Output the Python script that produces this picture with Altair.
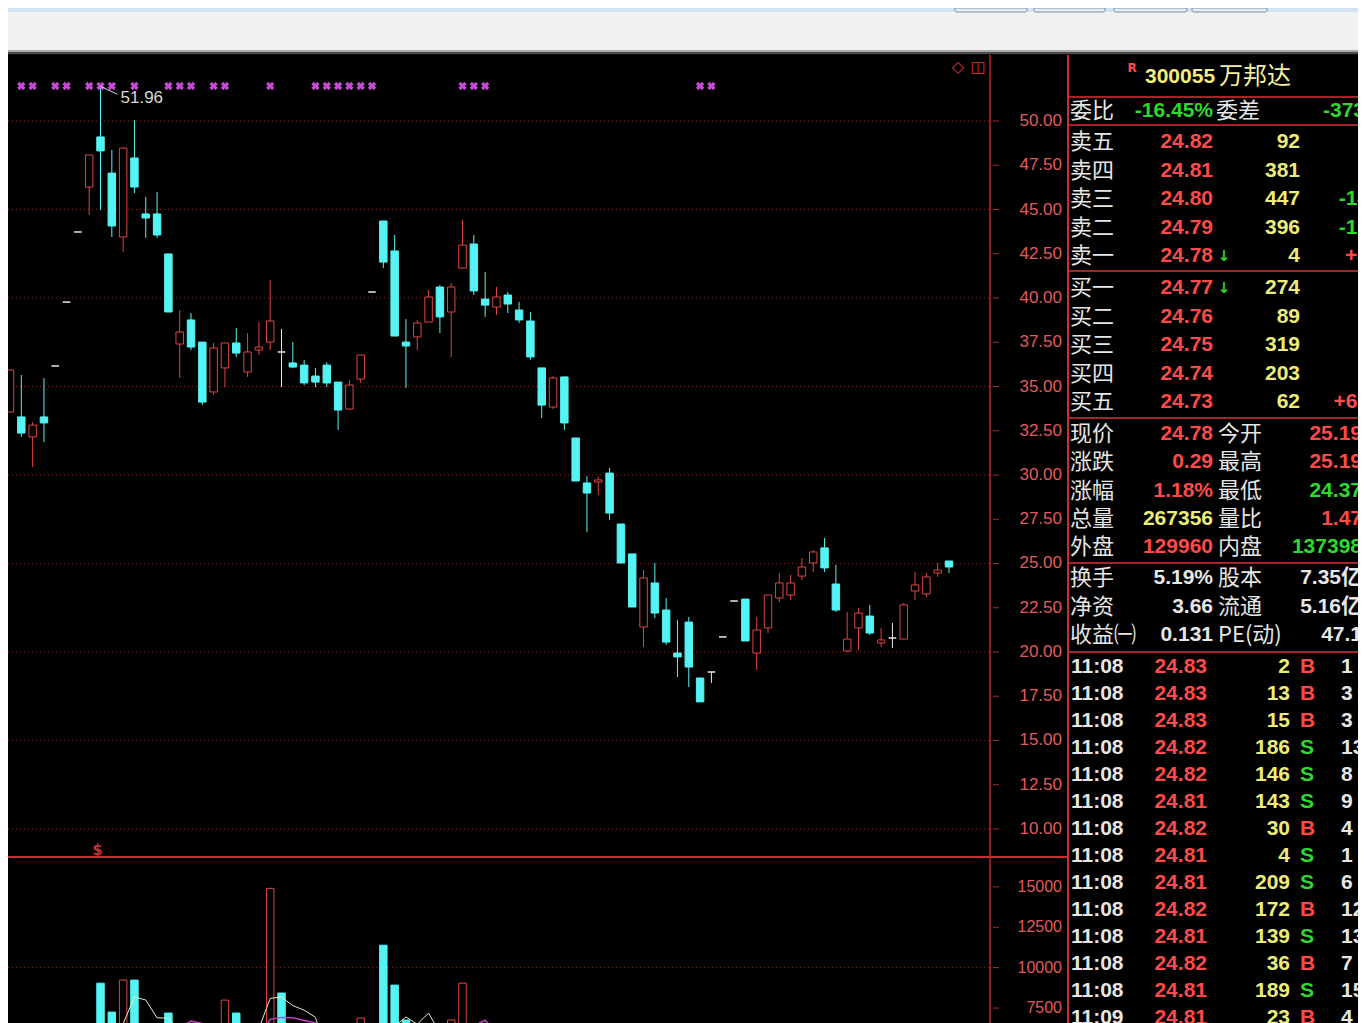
import altair as alt
import pandas as pd

# ---------------- candle data (left to right) ----------------
opens = [33.56, 33.28, 32.15, 33.28, 36.16, 39.77, 43.73, 46.27, 49.10, 47.06,
         43.45, 47.91, 44.75, 44.75, 42.49, 37.40, 38.76, 37.51, 34.69, 36.05,
         37.46, 35.82, 37.06, 37.51, 36.95, 36.33, 36.21, 35.59, 36.21, 35.25,
         33.73, 35.42, 40.34, 44.35, 42.66, 37.51, 37.80, 38.64, 40.62, 39.21,
         41.69, 43.05, 39.94, 39.49, 40.17, 39.32, 38.70, 36.05, 33.84, 35.54,
         32.09, 29.55, 29.60, 30.11, 27.23, 25.54, 21.41, 23.90, 22.37, 19.94,
         21.69, 18.53, 18.87, 20.85, 22.88, 22.99, 19.94, 21.36, 23.05, 23.22,
         24.29, 25.03, 25.88, 23.84, 20.06, 21.36, 22.03, 20.51, 20.79, 20.73,
         23.45, 23.28, 24.46, 25.14]
closes = [35.93, 32.37, 32.82, 32.94, 36.16, 39.77, 43.73, 48.08, 48.31, 44.07,
          48.47, 46.27, 44.52, 43.56, 39.21, 38.08, 37.23, 34.12, 37.18, 37.46,
          36.89, 36.95, 37.23, 38.70, 36.95, 36.10, 35.20, 35.25, 35.20, 33.67,
          35.08, 36.78, 40.34, 42.03, 37.85, 37.29, 38.59, 40.06, 38.93, 40.62,
          42.99, 40.40, 39.60, 40.06, 39.66, 38.76, 36.67, 33.95, 35.48, 32.94,
          29.66, 28.98, 29.72, 27.85, 25.03, 22.54, 24.18, 22.20, 20.56, 19.72,
          19.15, 17.18, 18.87, 20.85, 22.88, 20.62, 21.24, 23.22, 23.90, 23.90,
          24.80, 25.65, 24.75, 22.37, 20.73, 22.20, 21.07, 20.68, 20.79, 22.66,
          23.79, 24.24, 24.63, 24.80]
highs = [35.93, 35.65, 32.99, 35.48, 36.16, 39.77, 43.73, 48.08, 51.96, 48.36,
         48.47, 50.06, 45.71, 45.99, 42.49, 39.32, 39.15, 37.51, 37.46, 37.46,
         38.31, 38.02, 38.64, 41.02, 38.25, 37.51, 36.50, 36.05, 36.38, 35.25,
         35.37, 36.78, 40.34, 44.35, 43.56, 38.81, 38.76, 40.45, 40.73, 40.85,
         44.41, 43.56, 41.47, 40.62, 40.34, 39.77, 39.21, 36.05, 35.59, 35.54,
         32.09, 29.94, 29.89, 30.40, 27.23, 25.54, 24.63, 25.03, 23.05, 21.81,
         21.98, 18.53, 18.87, 20.85, 22.88, 22.99, 21.98, 23.22, 24.46, 24.35,
         25.31, 25.76, 26.44, 24.92, 22.26, 22.49, 22.66, 21.36, 21.64, 22.77,
         24.52, 24.46, 25.03, 25.14]
lows = [33.56, 32.15, 30.45, 31.86, 36.16, 39.77, 43.73, 44.69, 44.97, 43.45,
        42.60, 45.93, 43.39, 43.39, 39.21, 35.48, 37.06, 33.95, 34.52, 34.97,
        36.67, 35.54, 36.78, 37.06, 34.97, 36.05, 35.08, 34.97, 34.97, 32.54,
        33.67, 35.20, 40.34, 41.69, 37.85, 34.92, 37.06, 38.64, 38.02, 36.67,
        41.69, 40.17, 38.93, 39.04, 39.15, 38.59, 36.50, 33.22, 33.73, 32.54,
        29.66, 26.78, 28.87, 27.46, 25.03, 22.54, 20.28, 21.92, 20.40, 18.59,
        18.02, 17.18, 18.25, 20.85, 22.88, 20.62, 18.98, 21.07, 22.82, 22.94,
        24.07, 24.52, 24.52, 22.26, 20.00, 20.11, 20.96, 20.28, 20.23, 20.73,
        22.94, 23.11, 24.24, 24.46]
volumes = [4200, 5800, 4600, 5200, 600, 700, 900, 6200, 9040, 7250,
           9230, 9230, 5250, 3500, 7190, 4800, 5200, 4700, 5600, 7990,
           7190, 5000, 5400, 14910, 8430, 4500, 3600, 3200, 2900, 4100,
           3800, 6880, 800, 11390, 8920, 6760, 4600, 4300, 5200, 6760,
           9040, 6300, 4200, 3300, 2800, 3100, 4400, 5100, 3900, 4700,
           5300, 4100, 2600, 4900, 5000, 5600, 6300, 5200, 4300, 3900,
           5800, 6100, 2200, 700, 900, 6400, 5800, 5500, 4900, 3800,
           4200, 5100, 5700, 4600, 3900, 3700, 3300, 2900, 2600, 4400,
           3800, 3500, 3100, 2700]
signal_days = [1, 2, 4, 5, 7, 8, 9, 11, 14, 15, 16, 18, 19, 23, 27, 28, 29, 30,
               31, 32, 40, 41, 42, 61, 62]
peak_day = 8
peak_label = "51.96"

price_ticks = [10.0 + 2.5 * k for k in range(17)]
price_grid = [10, 15, 20, 25, 30, 35, 40, 45, 50]
vol_ticks = [7500, 10000, 12500, 15000]
vol_grid = [10000]

# ---------------- quote panel content ----------------
stock_code = "300055"
stock_name = "万邦达"
wb = ["委比", "-16.45%", "委差", "-373"]
ask_labels = ["卖五", "卖四", "卖三", "卖二", "卖一"]
ask_prices = ["24.82", "24.81", "24.80", "24.79", "24.78"]
ask_vols = ["92", "381", "447", "396", "4"]
ask_chg = ["", "", "-14", "-10", "+4"]
bid_labels = ["买一", "买二", "买三", "买四", "买五"]
bid_prices = ["24.77", "24.76", "24.75", "24.74", "24.73"]
bid_vols = ["274", "89", "319", "203", "62"]
bid_chg = ["", "", "", "", "+62"]
quote_l1 = ["现价", "涨跌", "涨幅", "总量", "外盘"]
quote_v1 = ["24.78", "0.29", "1.18%", "267356", "129960"]
quote_l2 = ["今开", "最高", "最低", "量比", "内盘"]
quote_v2 = ["25.19", "25.19", "24.37", "1.47", "137398"]
info_l1 = ["换手", "净资", "收益㈠"]
info_v1 = ["5.19%", "3.66", "0.131"]
info_l2 = ["股本", "流通", "PE(动)"]
info_v2 = ["7.35亿", "5.16亿", "47.1"]
tick_times = ["11:08"] * 13 + ["11:09"]
tick_prices = ["24.83", "24.83", "24.83", "24.82", "24.82", "24.81", "24.82",
               "24.81", "24.81", "24.82", "24.81", "24.82", "24.81", "24.81"]
tick_vols = ["2", "13", "15", "186", "146", "143", "30", "4", "209", "172",
             "139", "36", "189", "23"]
tick_sides = ["B", "B", "B", "S", "S", "S", "B", "S", "S", "B", "S", "B", "S", "B"]
tick_more = ["1", "3", "3", "13", "8", "9", "4", "1", "6", "12", "13", "7", "15", "4"]

# ---------------- styles / layout ----------------
UP = "#e04444"
DOWN = "#54f4f4"
FLAT = "#e8e8e8"
AX_RED = "#b82828"
SEP_RED = "#c83030"
GRID = "#8c2424"
LBL_RED = "#e45a5a"
WHITE = "#e6e6e6"
PRED = "#ff4a4a"
YEL = "#ecec7a"
GRN = "#2ed82e"
NUMFONT = "Liberation Sans, DejaVu Sans, Noto Sans CJK SC"
CJKFONT = "Noto Sans CJK SC"

PW, PH = 1059, 803        # price panel (incl. in-plot axis strip)
AXX = 982                 # x of the price axis line inside the panel
VH = 165                  # volume panel height (runs to the window's bottom edge)
QW, QH = 291, PH + VH     # quote panel
CW, CH = PW + QW, 47      # window chrome strip

step = 939 / 83.0
x0 = -2 / step
xs = alt.Scale(domain=[x0, x0 + PW / step], nice=False, zero=False)
ys = alt.Scale(domain=[8.36, 53.73], nice=False, zero=False)
vbottom = 7500 + (1008 - (858 + VH)) / 40.5 * 2500
vs = alt.Scale(domain=[vbottom, 16790], nice=False, zero=False)
kdom = ["up", "down", "flat"]
stroke_sc = alt.Scale(domain=kdom, range=[UP, DOWN, FLAT])
fill_sc = alt.Scale(domain=kdom, range=["#000000", DOWN, FLAT])

idx = list(range(len(opens)))
kind = ["up" if c > o else ("down" if c < o else "flat") for o, c in zip(opens, closes)]
cdf = pd.DataFrame(dict(idx=idx, open=opens, close=closes, high=highs, low=lows, kind=kind))
cdf["x0"] = cdf["idx"] - 0.33
cdf["x1"] = cdf["idx"] + 0.33


def value_axis(ticks, scale, fmt, height, fsize):
    tdf_ = pd.DataFrame({"v": ticks, "lab": [fmt(t) for t in ticks]})
    line = alt.Chart(pd.DataFrame({"k": [0]})).mark_rule(
        color=AX_RED, strokeWidth=1.5, clip=True).encode(
        x=alt.value(AXX), y=alt.value(0), y2=alt.value(height))
    tks = alt.Chart(tdf_).mark_rule(color=AX_RED, strokeWidth=1, clip=True).encode(
        x=alt.value(AXX + 3), x2=alt.value(AXX + 9),
        y=alt.Y("v:Q", scale=scale, axis=None))
    labs = alt.Chart(tdf_).mark_text(align="right", baseline="middle", color=LBL_RED,
                                     font="Liberation Sans", fontSize=fsize, clip=True).encode(
        x=alt.value(PW - 5), y=alt.Y("v:Q", scale=scale, axis=None), text="lab:N")
    return [line, tks, labs]


# ---------------- price panel ----------------
grid_layer = alt.Chart(pd.DataFrame({"lvl": price_grid})).mark_rule(
    color=GRID, strokeDash=[1, 3], strokeWidth=1, clip=True).encode(
    y=alt.Y("lvl:Q", scale=ys, axis=None),
    x=alt.value(0), x2=alt.value(AXX))

sep_line = alt.Chart(pd.DataFrame({"k": [0]})).mark_rule(
    color=SEP_RED, strokeWidth=2, clip=True).encode(
    x=alt.value(0), x2=alt.value(PW), y=alt.value(PH - 1))

wicks = alt.Chart(cdf).mark_rule(strokeWidth=1, clip=True).encode(
    x=alt.X("idx:Q", scale=xs, axis=None),
    y=alt.Y("low:Q", scale=ys, axis=None),
    y2="high:Q",
    color=alt.Color("kind:N", scale=stroke_sc, legend=None))

bodies = alt.Chart(cdf).mark_rect(strokeWidth=1, clip=True).encode(
    x=alt.X("x0:Q", scale=xs, axis=None), x2="x1:Q",
    y=alt.Y("open:Q", scale=ys, axis=None), y2="close:Q",
    fill=alt.Fill("kind:N", scale=fill_sc, legend=None),
    stroke=alt.Stroke("kind:N", scale=stroke_sc, legend=None))

signals = alt.Chart(pd.DataFrame({"idx": signal_days})).mark_point(
    shape="cross", angle=45, filled=True, size=70, color="#d24ee0", opacity=0.95,
    clip=True).encode(
    x=alt.X("idx:Q", scale=xs, axis=None), y=alt.value(31))

peak = pd.DataFrame({"idx": [peak_day], "high": [highs[peak_day]], "lab": [peak_label],
                     "idx2": [peak_day + 1.5], "high2": [highs[peak_day] - 0.45]})
peak_line = alt.Chart(peak).mark_rule(color="#d8d8d8", strokeWidth=1, clip=True).encode(
    x=alt.X("idx:Q", scale=xs, axis=None), x2="idx2:Q",
    y=alt.Y("high:Q", scale=ys, axis=None), y2="high2:Q")
peak_text = alt.Chart(peak).mark_text(align="left", baseline="middle", dx=20, dy=12,
                                      color="#d8d8d8", font="Liberation Sans", fontSize=17,
                                      clip=True).encode(
    x=alt.X("idx:Q", scale=xs, axis=None), y=alt.Y("high:Q", scale=ys, axis=None), text="lab:N")

dollar = alt.Chart(pd.DataFrame({"idx": [peak_day], "t": ["$"]})).mark_text(
    color=SEP_RED, fontSize=15, fontWeight="bold", font="DejaVu Sans", baseline="middle",
    dx=-3, clip=True).encode(
    x=alt.X("idx:Q", scale=xs, axis=None), y=alt.value(795), text="t:N")

icon1 = alt.Chart(pd.DataFrame({"t": ["◇"]})).mark_text(
    color="#d03030", fontSize=16, font="DejaVu Sans", baseline="middle", clip=True).encode(
    x=alt.value(950), y=alt.value(12), text="t:N")
icon2 = alt.Chart(pd.DataFrame({"t": ["◫"]})).mark_text(
    color="#d03030", fontSize=16, font="DejaVu Sans", baseline="middle", clip=True).encode(
    x=alt.value(970), y=alt.value(12), text="t:N")

price = alt.layer(grid_layer, wicks, bodies, signals, peak_line, peak_text, dollar,
                  icon1, icon2, sep_line,
                  *value_axis(price_ticks, ys, lambda t: f"{t:.2f}", PH, 17)
                  ).properties(width=PW, height=PH)

# ---------------- volume panel ----------------
vdf = pd.DataFrame(dict(idx=idx, vol=volumes,
                        vkind=["up" if c > o else "down" for o, c in zip(opens, closes)]))
vdf["x0"] = vdf["idx"] - 0.33
vdf["x1"] = vdf["idx"] + 0.33
vgrid = alt.Chart(pd.DataFrame({"lvl": vol_grid})).mark_rule(
    color=GRID, strokeDash=[1, 3], clip=True).encode(
    y=alt.Y("lvl:Q", scale=vs, axis=None), x=alt.value(0), x2=alt.value(AXX))
vbars = alt.Chart(vdf).mark_rect(strokeWidth=1, clip=True).encode(
    x=alt.X("x0:Q", scale=xs, axis=None), x2="x1:Q",
    y=alt.Y("vol:Q", scale=vs, axis=None), y2=alt.datum(0),
    fill=alt.Fill("vkind:N", scale=fill_sc, legend=None),
    stroke=alt.Stroke("vkind:N", scale=stroke_sc, legend=None))
ma5 = alt.Chart(vdf).transform_window(
    ma="mean(vol)", frame=[-4, 0], sort=[alt.SortField("idx")]).mark_line(
    clip=True, color="#ecebc4", strokeWidth=1).encode(
    x=alt.X("idx:Q", scale=xs, axis=None), y=alt.Y("ma:Q", scale=vs, axis=None))
ma10 = alt.Chart(vdf).transform_window(
    ma="mean(vol)", frame=[-9, 0], sort=[alt.SortField("idx")]).mark_line(
    clip=True, color="#c640c8", strokeWidth=1.5).encode(
    x=alt.X("idx:Q", scale=xs, axis=None), y=alt.Y("ma:Q", scale=vs, axis=None))
volume = alt.layer(vgrid, vbars, ma5, ma10,
                   *value_axis(vol_ticks, vs, lambda t: f"{t:d}", VH, 16)
                   ).properties(width=PW, height=VH)

# ---------------- quote panel ----------------
T = []


def put(txt, x, y, color, grp, size):
    T.append({"txt": txt, "x": x, "y": y, "color": color, "grp": grp, "size": size})


put("R", 65, 13, PRED, "sym", 12)
put(stock_code, 78, 22, "#f4ec7c", "numL", 21)
put(stock_name, 152, 22, "#f4eea0", "cjk", 24)
put(wb[0], 3, 56, WHITE, "cjk", 22)
put(wb[1], 146, 56, GRN, "numR", 21)
put(wb[2], 149, 56, WHITE, "cjk", 22)
put(wb[3], 256, 56, GRN, "numL", 21)
for i in range(5):
    y = 87 + 28.5 * i
    put(ask_labels[i], 3, y, WHITE, "cjk", 22)
    put(ask_prices[i], 146, y, PRED, "numR", 21)
    put(ask_vols[i], 233, y, YEL, "numR", 21)
    if ask_chg[i]:
        put(ask_chg[i], 302, y, GRN if ask_chg[i].startswith("-") else PRED, "numR", 21)
put("↓", 157, 87 + 28.5 * 4, GRN, "sym", 15)
for i in range(5):
    y = 233 + 28.5 * i
    put(bid_labels[i], 3, y, WHITE, "cjk", 22)
    put(bid_prices[i], 146, y, PRED, "numR", 21)
    put(bid_vols[i], 233, y, YEL, "numR", 21)
    if bid_chg[i]:
        put(bid_chg[i], 302, y, GRN if bid_chg[i].startswith("-") else PRED, "numR", 21)
put("↓", 157, 233, GRN, "sym", 15)
v1c = [PRED, PRED, PRED, YEL, PRED]
v2c = [PRED, PRED, GRN, PRED, GRN]
for i in range(5):
    y = 379 + 28.25 * i
    put(quote_l1[i], 3, y, WHITE, "cjk", 22)
    put(quote_v1[i], 146, y, v1c[i], "numR", 21)
    put(quote_l2[i], 151, y, WHITE, "cjk", 22)
    put(quote_v2[i], 295, y, v2c[i], "numR", 21)
for i in range(3):
    y = 523 + 28.5 * i
    put(info_l1[i], 3, y, WHITE, "cjk", 22)
    put(info_v1[i], 146, y, WHITE, "numR", 21)
    put(info_l2[i], 151, y, WHITE, "cjk", 22)
    put(info_v2[i], 295, y, WHITE, "numR", 21)
for i in range(len(tick_times)):
    y = 612 + 27 * i
    put(tick_times[i], 4, y, WHITE, "numL", 21)
    put(tick_prices[i], 140, y, PRED, "numR", 21)
    put(tick_vols[i], 223, y, YEL, "numR", 21)
    put(tick_sides[i], 233, y, PRED if tick_sides[i] == "B" else GRN, "numL", 21)
    put(tick_more[i], 274, y, WHITE, "numL", 21)
tdf = pd.DataFrame(T)

pxs = alt.Scale(domain=[0, QW], nice=False, zero=False)
pys = alt.Scale(domain=[0, QH], nice=False, zero=False, reverse=True)
seps = alt.Chart(pd.DataFrame({"y": [42, 70, 216, 363, 508, 597]})).mark_rule(
    color="#a82424", strokeWidth=2, clip=True).encode(
    y=alt.Y("y:Q", scale=pys, axis=None), x=alt.value(0), x2=alt.value(QW))
left_border = alt.Chart(pd.DataFrame({"k": [0]})).mark_rule(
    color=SEP_RED, strokeWidth=2, clip=True).encode(
    x=alt.value(1), y=alt.value(0), y2=alt.value(QH))

groups = {
    "cjk": dict(align="left", font=CJKFONT, fontWeight="normal"),
    "numL": dict(align="left", font=NUMFONT, fontWeight="bold"),
    "numR": dict(align="right", font=NUMFONT, fontWeight="bold"),
    "sym": dict(align="center", font="DejaVu Sans", fontWeight="bold"),
}
text_layers = []
for g, props in groups.items():
    text_layers.append(
        alt.Chart(tdf).transform_filter(alt.datum.grp == g).mark_text(
            baseline="middle", clip=True, **props).encode(
            x=alt.X("x:Q", scale=pxs, axis=None),
            y=alt.Y("y:Q", scale=pys, axis=None),
            text="txt:N",
            color=alt.Color("color:N", scale=None),
            size=alt.Size("size:Q", scale=None)))
panel = alt.layer(seps, left_border, *text_layers).properties(width=QW, height=QH)

# ---------------- window chrome strip ----------------
bands = pd.DataFrame({"y0": [0, 4, 42, 44, 46], "y1": [4, 42, 44, 46, 47],
                      "c": ["#d3e3f3", "#f1f1f1", "#a8a8a8", "#4a4a4a", "#101010"]})
cxs = alt.Scale(domain=[0, CW], nice=False, zero=False)
cys = alt.Scale(domain=[0, CH], nice=False, zero=False, reverse=True)
band_layer = alt.Chart(bands).mark_rect(clip=True).encode(
    x=alt.value(0), x2=alt.value(CW),
    y=alt.Y("y0:Q", scale=cys, axis=None), y2="y1:Q",
    color=alt.Color("c:N", scale=None))
tabs = pd.DataFrame({"a": [947, 1026, 1106, 1184], "b": [1019, 1097, 1179, 1259],
                     "y0": [0, 0, 0, 0], "y1": [4, 4, 4, 4]})
tab_layer = alt.Chart(tabs).mark_rect(fill="#e2edf8", stroke="#7d8da5", strokeWidth=1,
                                      cornerRadiusBottomLeft=4, cornerRadiusBottomRight=4,
                                      clip=True).encode(
    x=alt.X("a:Q", scale=cxs, axis=None), x2="b:Q",
    y=alt.Y("y0:Q", scale=cys, axis=None), y2="y1:Q")
chrome = alt.layer(band_layer, tab_layer).properties(width=CW, height=CH)

left = alt.vconcat(price, volume, spacing=0)
row = alt.hconcat(left, panel, spacing=0)
chart = alt.vconcat(chrome, row, spacing=0).properties(padding=0).configure(
    background="#000000").configure_view(stroke=None)

chart.save("out.html", embed_options={"renderer": "svg", "actions": False})
